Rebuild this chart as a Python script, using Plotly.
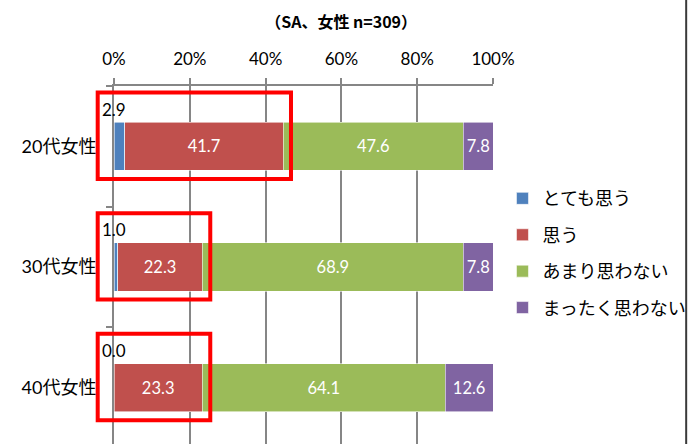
import plotly.graph_objects as go

# Survey result: 100% stacked horizontal bars by age group (women, n=309)
categories = ["20代女性", "30代女性", "40代女性"]
series_names = ["とても思う", "思う", "あまり思わない", "まったく思わない"]
very_much = [2.9, 1.0, 0.0]
agree = [41.7, 22.3, 23.3]
not_really = [47.6, 68.9, 64.1]
not_at_all = [7.8, 7.8, 12.6]
series_values = [very_much, agree, not_really, not_at_all]
series_colors = ["#4F81BD", "#C0504D", "#9BBB59", "#8064A2"]
x_tick_values = [0, 20, 40, 60, 80, 100]
x_tick_labels = ["0%", "20%", "40%", "60%", "80%", "100%"]

BASE_FONT = "Lato, 'Noto Sans CJK JP', sans-serif"
GRID = "#868686"
X_RANGE = [0, 100]
Y_RANGE = [2.467, -0.5]

fig = go.Figure()
for i, (name, vals, color) in enumerate(zip(series_names, series_values, series_colors)):
    labelled_inside = i > 0
    fig.add_trace(go.Bar(
        name=name,
        y=categories,
        x=vals,
        orientation="h",
        width=0.4,
        legendgroup=name,
        marker=dict(color=color, line=dict(color="rgba(255,255,255,0.7)", width=0.8)),
        texttemplate="%{x:.1f}" if labelled_inside else None,
        textposition="inside" if labelled_inside else "none",
        insidetextanchor="middle",
        textfont=dict(color="white", size=16.5, family=BASE_FONT),
        hoverinfo="skip",
    ))


def paper_x(v):
    return (v - X_RANGE[0]) / (X_RANGE[1] - X_RANGE[0])


def paper_y(v):
    return (Y_RANGE[0] - v) / (Y_RANGE[0] - Y_RANGE[1])


annotations = []
shapes = []
for i, cat in enumerate(categories):
    # small first-segment value printed above the bar
    annotations.append(dict(
        x=0, y=i, xref="x", yref="y", yshift=37,
        text=f"{very_much[i]:.1f}", showarrow=False,
        font=dict(size=17, color="black", family=BASE_FONT),
        xanchor="center", yanchor="middle",
    ))
    # red highlight box around the two "agree" segments
    shapes.append(dict(
        type="rect", xref="paper", yref="paper",
        x0=paper_x(-4.3), x1=paper_x(very_much[i] + agree[i] + 2.1),
        y0=paper_y(i + 0.27), y1=paper_y(i - 0.446),
        line=dict(color="#FF0000", width=4), fillcolor="rgba(0,0,0,0)",
        layer="above",
    ))

# frame line on the right edge of the chart area
shapes.append(dict(
    type="line", xref="paper", yref="paper",
    x0=1.5097, x1=1.5097, y0=-0.1, y1=1.4,
    line=dict(color="#3a3a3a", width=2),
))

fig.update_layout(
    width=699, height=444,
    margin=dict(l=114.3, r=206.2, t=86, b=0, pad=0),
    barmode="stack",
    plot_bgcolor="white", paper_bgcolor="white",
    font=dict(family=BASE_FONT, color="black"),
    title=dict(
        text="<b>（SA、女性 n=309）</b>",
        font=dict(family="'Noto Sans CJK JP', sans-serif", size=16, color="black"),
        x=0.488, xref="container", xanchor="center",
        y=1 - 22 / 444, yref="container", yanchor="middle",
    ),
    xaxis=dict(
        side="top", range=X_RANGE,
        tickvals=x_tick_values, ticktext=x_tick_labels,
        showgrid=True, gridcolor=GRID, gridwidth=2,
        showline=True, linecolor=GRID, linewidth=2,
        ticks="outside", ticklen=6, tickwidth=2, tickcolor=GRID,
        ticklabelstandoff=6,
        zeroline=False,
        tickfont=dict(size=17, color="black", family=BASE_FONT),
    ),
    yaxis=dict(
        type="category", categoryorder="array", categoryarray=categories,
        range=Y_RANGE,
        showgrid=False, zeroline=False,
        showline=True, linecolor=GRID, linewidth=2,
        ticks="outside", ticklen=6, tickwidth=2, tickcolor=GRID,
        tickson="boundaries",
        ticklabelstandoff=12,
        tickfont=dict(size=18, color="black", family=BASE_FONT),
    ),
    legend=dict(
        x=1.025, xanchor="left", y=0.737, yanchor="top",
        traceorder="grouped", tracegroupgap=10,
        font=dict(size=18, color="black", family=BASE_FONT),
        bgcolor="rgba(0,0,0,0)",
    ),
    uniformtext=dict(minsize=16, mode="show"),
    annotations=annotations,
    shapes=shapes,
    showlegend=True,
)

fig.write_html("out.html")
